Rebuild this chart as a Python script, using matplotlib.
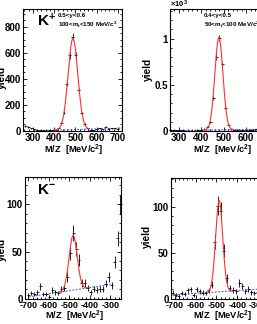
import numpy as np
import matplotlib
matplotlib.use('Agg')
import matplotlib.pyplot as plt
from matplotlib.ticker import MultipleLocator, FuncFormatter

plt.rcParams['font.family'] = ['Liberation Sans', 'DejaVu Sans']
plt.rcParams['font.weight'] = 'bold'
plt.rcParams['mathtext.fontset'] = 'custom'
plt.rcParams['mathtext.rm'] = 'Liberation Sans:bold'
plt.rcParams['mathtext.bf'] = 'Liberation Sans:bold'
plt.rcParams['mathtext.it'] = 'Liberation Sans:bold:italic'
plt.rcParams['mathtext.default'] = 'bf'
plt.rcParams['axes.unicode_minus'] = False

# ---------------- data ----------------
# K+ , 0.5<y<0.6, 100<mt<150
kp1_x = [264, 278, 292, 306, 320, 334, 348, 362, 376, 390, 404, 418, 432, 446, 460, 474,
         488, 502, 516, 530, 544, 558, 572, 586, 600, 614, 628, 642, 656, 670, 684, 698]
kp1_y = [40, 30, 22, 12, 8, 5, 4, 3, 4, 6, 8, 20, 60, 142, 364, 581,
         726, 581, 312, 137, 54, 20, 10, 8, 12, 21, 15, 33, 18, 22, 21, 18]
# K+ , 0.4<y<0.5, 50<mt<100
kp2_x = [264.5, 278, 291.5, 305, 318.5, 332, 345.5, 359, 372.5, 386, 399.5, 413, 426.5, 440,
         453.5, 467, 480.5, 494, 507.5, 521, 534.5, 548, 561.5, 575, 588.5, 602, 615.5, 629,
         642.5, 656, 669.5, 683, 696.5]
kp2_y = [15, 12, 10, 8, 6, 5, 5, 4, 5, 6, 8, 25, 45, 97,
         357, 800, 1010, 722, 253, 70, 20, 10, 8, 10, 12, 14, 15, 16,
         18, 18, 20, 20, 20]
# K- , left
km1_x = [-700, -685.5, -671, -656.5, -642, -627.5, -613, -598.5, -584, -569.5, -555, -540.5,
         -526, -511.5, -497, -482.5, -468, -453.5, -439, -424.5, -410, -395.5, -381, -366.5,
         -352, -337.5, -323, -308.5, -294, -279.5, -265, -252]
km1_y = [4, 6, 5, 7, 13, 5, 5, 2, 9, 7, 6, 10,
         11, 23, 48, 70, 53, 41, 17, 17, 11, 7, 10, 9,
         10, 10, 16, 23, 14, 39, 64, 100]
# K- , right
km2_x = [-710.5, -696, -681.5, -667, -652.5, -638, -623.5, -609, -594.5, -580, -565.5, -551,
         -536.5, -522, -507.5, -493, -478.5, -464, -449.5, -435, -420.5, -406, -391.5, -377,
         -362.5, -348, -333.5, -319, -304.5, -290, -275.5, -261]
km2_y = [6.5, 4, 3, 6, 5, 9, 10, 4, 10, 8, 6.5, 6,
         9, 15, 62, 101, 95, 52, 22, 11.6, 9.7, 8, 17, 13.7,
         8, 11, 7, 6, 7, 8, 8, 9]

# fit parameters: amplitude, mean, sigma ; background line end points ; fit range
fits = {
    'kp1': dict(amp=700, mu=488, sig=23, bgx=(300, 720), bgy=(2, 22), rng=(400, 565)),
    'kp2': dict(amp=1000, mu=479, sig=18, bgx=(263, 700), bgy=(5, 20), rng=(415, 545)),
    'km1': dict(amp=58, mu=-482, sig=20, bgx=(-700, -300), bgy=(2, 15), rng=(-545, -405)),
    'km2': dict(amp=99, mu=-487, sig=17, bgx=(-720, -258), bgy=(4, 11), rng=(-545, -425)),
}

W, H = 257, 324
fig = plt.figure(figsize=(W / 100, H / 100), dpi=100)


def ax_at(x0, y0, x1, y1):
    return fig.add_axes([x0 / W, 1 - y1 / H, (x1 - x0) / W, (y1 - y0) / H])


def ft(xp, yp, s, **kw):
    fig.text(xp / W, 1 - yp / H, s, **kw)


def panel(ax, x, y, hw, fp, xlim, ylim, xmaj, xmin, ymaj, ymin, xls, xpad):
    x = np.asarray(x, float)
    y = np.asarray(y, float)
    ax.errorbar(x, y, yerr=np.sqrt(y), xerr=hw, fmt='none', ecolor='black',
                elinewidth=0.6, capsize=0, zorder=3, clip_on=False)
    xs = np.linspace(fp['rng'][0], fp['rng'][1], 300)
    bg = np.interp(xs, fp['bgx'], fp['bgy'])
    ax.plot(xs, bg + fp['amp'] * np.exp(-0.5 * ((xs - fp['mu']) / fp['sig']) ** 2),
            color='#ff3030', lw=0.8, zorder=4)
    ax.plot(fp['bgx'], fp['bgy'], color='#3050ff', lw=0.7, ls=(0, (2, 1.5)), zorder=2)
    ax.set_xlim(*xlim)
    ax.set_ylim(*ylim)
    ax.xaxis.set_major_locator(MultipleLocator(xmaj))
    ax.xaxis.set_minor_locator(MultipleLocator(xmin))
    ax.yaxis.set_major_locator(MultipleLocator(ymaj))
    ax.yaxis.set_minor_locator(MultipleLocator(ymin))
    ax.tick_params(which='both', direction='in', top=True, right=True, width=0.6, pad=1.5)
    ax.tick_params(axis='y', labelsize=7)
    ax.tick_params(axis='x', labelsize=xls, pad=xpad)
    ax.tick_params(which='major', length=3)
    ax.tick_params(which='minor', length=1.5)
    for lab in ax.get_xticklabels() + ax.get_yticklabels():
        lab.set_fontweight('bold')
    for s in ax.spines.values():
        s.set_linewidth(0.8)


ax1 = ax_at(23, 9, 122, 131)
panel(ax1, kp1_x, kp1_y, 7, fits['kp1'], (253, 719), (0, 938), 100, 20, 200, 50, 7, 1.2)

ax2 = ax_at(170.3, 9, 268.6, 131)
panel(ax2, kp2_x, kp2_y, 6.75, fits['kp2'], (263, 700), (0, 1320), 100, 20, 500, 100, 7, 1.2)
ax2.yaxis.set_major_formatter(FuncFormatter(lambda v, p: f"{v / 1000:g}"))

ax3 = ax_at(25, 177, 120.7, 298.7)
panel(ax3, km1_x, km1_y, 7.25, fits['km1'], (-717, -250), (0, 129), 100, 20, 50, 10, 6.5, 1.8)

ax4 = ax_at(170.7, 178, 266.8, 298.7)
panel(ax4, km2_x, km2_y, 7.25, fits['km2'], (-720, -258), (0, 131), 100, 20, 50, 10, 6.5, 1.8)

# axis titles
for xc, yc in [(74, 150.5), (223, 150.5), (75, 316.8), (223, 316.8)]:
    ft(xc, yc, 'M/Z  [MeV/c$^2$]', fontsize=6.7, ha='center', va='center', fontweight='bold')
for xc, yc in [(2, 77), (147.5, 69), (2, 249), (147, 236)]:
    ft(xc, yc, 'yield', fontsize=7.2, ha='center', va='center', rotation=90, fontweight='bold')

# annotations
ft(37, 21, 'K$^{+}$', fontsize=11, ha='left', va='center', fontweight='bold')
ft(37, 190, 'K$^{-}$', fontsize=11, ha='left', va='center', fontweight='bold')
ft(58, 15.5, '0.5<y<0.6', fontsize=4.5, ha='left', va='center', fontweight='bold')
ft(58, 24.5, '100<m$_t$<150 MeV/c$^2$', fontsize=4.5, ha='left', va='center', fontweight='bold')
ft(204, 16, '0.4<y<0.5', fontsize=4.5, ha='left', va='center', fontweight='bold')
ft(204, 25, '50<m$_t$<100 MeV/c$^2$', fontsize=4.5, ha='left', va='center', fontweight='bold')
ft(170, 4, '×10$^3$', fontsize=5.5, ha='left', va='center', fontweight='bold')

fig.savefig('out.png', dpi=100)
